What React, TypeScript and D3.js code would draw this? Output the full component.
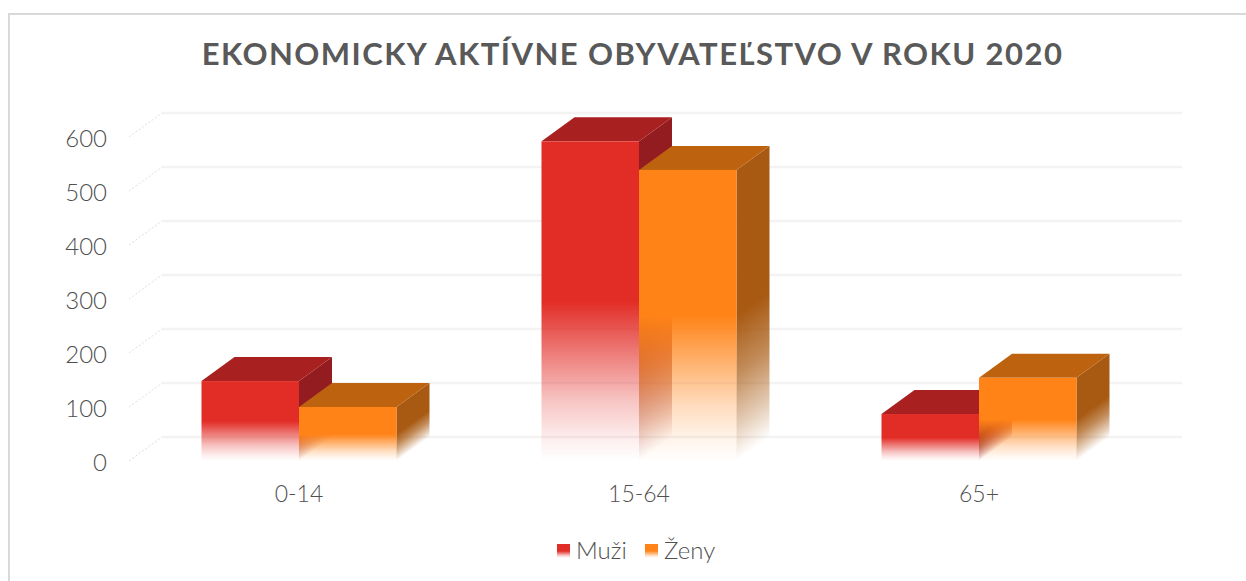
import React from "react";
import * as d3 from "d3";

const categories = ["0-14", "15-64", "65+"];
const seriesNames = ["Muži", "Ženy"];
const muzi = [148, 592, 87];
const zeny = [100, 539, 154];
const yTicks = [0, 100, 200, 300, 400, 500, 600];

const width = 1246;
const height = 581;
const depthX = 33;
const depthY = -24;
const fontFamily = "Lato, 'Open Sans', sans-serif";

const colors: Record<string, { front: string; top: string; side: string }> = {
  Muži: { front: "#e22c26", top: "#a92020", side: "#931c20" },
  Ženy: { front: "#ff8317", top: "#bd6310", side: "#a85a12" },
};

// both faces fade out towards the floor
function fadeGradient(id: string, color: string, stops: [number, number][]) {
  return (
    <linearGradient key={id} id={id} x1="0" y1="0" x2="0" y2="1">
      {stops.map(([o, a]) => (
        <stop key={o} offset={o} stopColor={color} stopOpacity={a} />
      ))}
    </linearGradient>
  );
}

const frontStops: [number, number][] = [[0, 1], [0.5, 1], [0.65, 0.65], [0.81, 0.28], [0.93, 0.08], [1, 0]];
const sideStops: [number, number][] = [[0, 1], [0.5, 1], [0.7, 0.7], [0.88, 0.3], [1, 0]];

export default function App() {
  const x0 = d3.scaleBand<string>().domain(categories).range([129, 1149]);
  const x1 = d3
    .scaleBand<string>()
    .domain(seriesNames)
    .range([0, x0.bandwidth()])
    .paddingOuter(0.7436);
  const y = d3.scaleLinear().domain([0, 600]).range([461, 137]);

  const path = d3.line();
  const values: Record<string, number[]> = { Muži: muzi, Ženy: zeny };
  const skew = (Math.atan(depthY / depthX) * 180) / Math.PI;

  return (
    <svg
      width={width}
      height={height}
      style={{ position: "absolute", left: 0, top: 0, background: "#fff" }}
    >
      <defs>
        {seriesNames.flatMap((s, i) => [
          fadeGradient(`front${i}`, colors[s].front, frontStops),
          fadeGradient(`side${i}`, colors[s].side, sideStops),
        ])}
      </defs>

      <rect x={9} y={14} width={1300} height={600} fill="#fff" stroke="#d9d9d9" strokeWidth={2} />

      <text
        x={632.5}
        y={65}
        textAnchor="middle"
        fontFamily={fontFamily}
        fontWeight={700}
        fontSize={31}
        letterSpacing={1.45}
        fill="#595959"
      >
        EKONOMICKY AKTÍVNE OBYVATEĽSTVO V ROKU 2020
      </text>

      {yTicks.map((t) => (
        <g key={t}>
          <line
            x1={x0.range()[0] + depthX}
            x2={x0.range()[1] + depthX}
            y1={y(t) + depthY}
            y2={y(t) + depthY}
            stroke="#f3f3f3"
            strokeWidth={2.5}
          />
          <line
            x1={x0.range()[0]}
            x2={x0.range()[0] + depthX}
            y1={y(t)}
            y2={y(t) + depthY}
            stroke="#dedede"
            strokeWidth={1}
            strokeDasharray="2 2"
          />
          <text
            x={107}
            y={y(t) + 10}
            textAnchor="end"
            fontFamily={fontFamily}
            fontWeight={300}
            fontSize={24}
            fill="#4f4f4f"
          >
            {t}
          </text>
        </g>
      ))}

      {categories.map((c, ci) =>
        seriesNames.map((s, si) => {
          const left = (x0(c) as number) + (x1(s) as number);
          const right = left + x1.bandwidth();
          const top = y(values[s][ci]);
          const base = y(0);
          const topFace = path([
            [left, top],
            [left + depthX, top + depthY],
            [right + depthX, top + depthY],
            [right, top],
          ]) as string;
          return (
            <g key={c + s}>
              {/* skewed so the fade follows the floor edge of the side face */}
              <rect
                transform={`translate(${right},${top}) skewY(${skew})`}
                width={depthX}
                height={base - top}
                fill={`url(#side${si})`}
              />
              <path d={topFace} fill={colors[s].top} />
              <rect x={left} y={top} width={right - left} height={base - top} fill={`url(#front${si})`} />
            </g>
          );
        })
      )}

      {categories.map((c) => (
        <text
          key={c}
          x={(x0(c) as number) + x0.bandwidth() / 2}
          y={502}
          textAnchor="middle"
          fontFamily={fontFamily}
          fontWeight={300}
          fontSize={23}
          fill="#4f4f4f"
        >
          {c}
        </text>
      ))}

      {seriesNames.map((s, i) => {
        const lx = [557, 645][i];
        return (
          <g key={s}>
            <rect x={lx} y={544} width={13} height={14} fill={`url(#front${i})`} />
            <text
              x={lx + 19}
              y={559}
              fontFamily={fontFamily}
              fontWeight={300}
              fontSize={24}
              fill="#4f4f4f"
            >
              {s}
            </text>
          </g>
        );
      })}
    </svg>
  );
}
